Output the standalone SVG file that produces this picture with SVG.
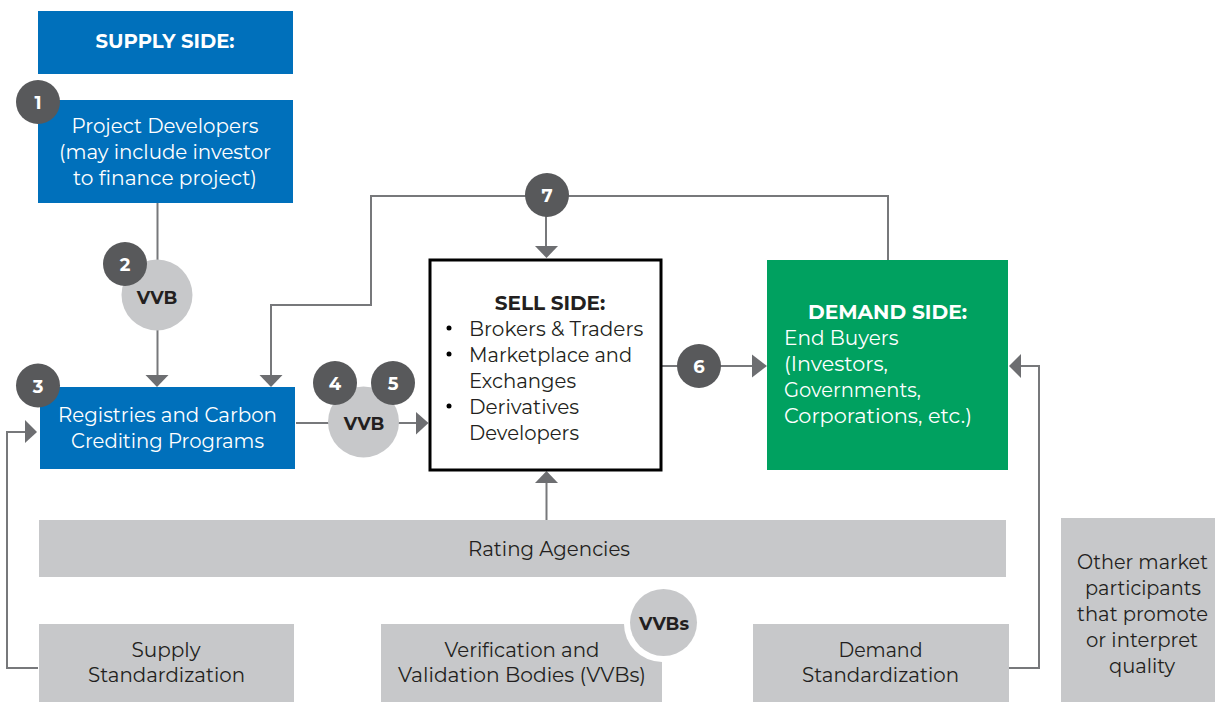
<svg xmlns="http://www.w3.org/2000/svg" width="1215" height="702" viewBox="0 0 1215 702">
<style>
text{font-family:"Montserrat","Open Sans","Liberation Sans",sans-serif;font-size:20px;text-anchor:middle}
.w{fill:#fff}.k{fill:#231f20}.b{font-weight:700}.s{text-anchor:start}.n{font-size:18px}
.blue{fill:#0070bb}.gray{fill:#c7c8ca}.badge{fill:#58595b}
.c{fill:none;stroke:#77787b;stroke-width:2}
.hd{fill:#6d6e71}
</style>
<rect width="1215" height="702" fill="#fff"/>
<g id="connectors">
<path class="c" d="M157.500 203V375"/><path class="hd" d="M145.500 375H168.500L157 387Z"/>
<path class="c" d="M296 423H417"/><path class="hd" d="M416 412L428.500 423L416 434.500Z"/>
<path class="c" d="M271 375V305H371V196H888V260"/><path class="hd" d="M259.500 375H282.500L271 387Z"/>
<path class="c" d="M546 196V246"/><path class="hd" d="M535 246H558L546.500 258Z"/>
<path class="c" d="M662 366H755"/><path class="hd" d="M752 354.500L767 366L752 377.500Z"/>
<path class="c" d="M546.500 520V483"/><path class="hd" d="M535 483H558L546.500 471Z"/>
<path class="c" d="M38 668H7V432H25"/><path class="hd" d="M25 420L37 432L25 443Z"/>
<path class="c" d="M1009 668H1039V366H1021"/><path class="hd" d="M1021 354L1009 366L1021 378Z"/>
</g>
<g id="supply-side"><rect class="blue" x="38" y="11" width="255" height="63"/><text class="w b" x="165" y="48" textLength="139" lengthAdjust="spacingAndGlyphs">SUPPLY SIDE:</text></g>
<g id="project-developers"><rect class="blue" x="38" y="100" width="255" height="103"/><text class="w" x="165" y="133" textLength="187" lengthAdjust="spacingAndGlyphs">Project Developers</text><text class="w" x="165" y="159" textLength="212" lengthAdjust="spacingAndGlyphs">(may include investor</text><text class="w" x="165" y="185" textLength="184" lengthAdjust="spacingAndGlyphs">to finance project)</text></g>
<g id="registries"><rect class="blue" x="40" y="387" width="255" height="82"/><text class="w" x="167.500" y="422" textLength="219" lengthAdjust="spacingAndGlyphs">Registries and Carbon</text><text class="w" x="167.500" y="448" textLength="193" lengthAdjust="spacingAndGlyphs">Crediting Programs</text></g>
<g id="sell-side"><rect x="430" y="260" width="231" height="210" fill="#fff" stroke="#000" stroke-width="3"/><text class="k b" x="550" y="310">SELL SIDE:</text>
<circle cx="449" cy="328" r="2.500"/><text class="k s" x="469" y="336">Brokers &amp; Traders</text><circle cx="449" cy="354" r="2.500"/><text class="k s" x="469" y="362" textLength="163" lengthAdjust="spacingAndGlyphs">Marketplace and</text><text class="k s" x="469" y="388" textLength="107" lengthAdjust="spacingAndGlyphs">Exchanges</text><circle cx="449" cy="406" r="2.500"/><text class="k s" x="469" y="414">Derivatives</text><text class="k s" x="469" y="440" textLength="110" lengthAdjust="spacingAndGlyphs">Developers</text></g>
<g id="demand-side"><rect x="767" y="260" width="241" height="210" fill="#00a160"/><text class="w b" x="887.500" y="319" textLength="159" lengthAdjust="spacingAndGlyphs">DEMAND SIDE:</text><text class="w s" x="784" y="345">End Buyers</text><text class="w s" x="784" y="371" textLength="104" lengthAdjust="spacingAndGlyphs">(Investors,</text><text class="w s" x="784" y="397" textLength="137" lengthAdjust="spacingAndGlyphs">Governments,</text><text class="w s" x="784" y="423" textLength="188" lengthAdjust="spacingAndGlyphs">Corporations, etc.)</text></g>
<g id="rating"><rect class="gray" x="39" y="520" width="967" height="57"/><text class="k" x="549" y="556" textLength="162" lengthAdjust="spacingAndGlyphs">Rating Agencies</text></g>
<g id="supply-std"><rect class="gray" x="39" y="624" width="255" height="78"/><text class="k" x="166" y="657" textLength="69" lengthAdjust="spacingAndGlyphs">Supply</text><text class="k" x="166.500" y="682" textLength="157" lengthAdjust="spacingAndGlyphs">Standardization</text></g>
<g id="vvb-bodies"><rect class="gray" x="381" y="624" width="281" height="78"/><text class="k" x="522" y="657" textLength="155" lengthAdjust="spacingAndGlyphs">Verification and</text><text class="k" x="522" y="682" textLength="248" lengthAdjust="spacingAndGlyphs">Validation Bodies (VVBs)</text></g>
<g id="demand-std"><rect class="gray" x="753" y="624" width="256" height="78"/><text class="k" x="880.500" y="657" textLength="84" lengthAdjust="spacingAndGlyphs">Demand</text><text class="k" x="880.500" y="682" textLength="157" lengthAdjust="spacingAndGlyphs">Standardization</text></g>
<g id="other"><rect class="gray" x="1061" y="518" width="154" height="184"/><text class="k" x="1142.500" y="569" textLength="131" lengthAdjust="spacingAndGlyphs">Other market</text><text class="k" x="1143" y="595" textLength="116" lengthAdjust="spacingAndGlyphs">participants</text><text class="k" x="1142.500" y="621" textLength="131" lengthAdjust="spacingAndGlyphs">that promote</text><text class="k" x="1142" y="647" textLength="112" lengthAdjust="spacingAndGlyphs">or interpret</text><text class="k" x="1142" y="673" textLength="66" lengthAdjust="spacingAndGlyphs">quality</text></g>
<g id="vvb-2"><circle class="gray" cx="157" cy="295" r="35.500"/><text class="k b n" x="157" y="304">VVB</text></g>
<g id="vvb-45"><circle class="gray" cx="363.500" cy="422" r="35.500"/><text class="k b n" x="364" y="430">VVB</text></g>
<g id="vvbs"><circle cx="662" cy="624" r="38" fill="#fff"/><circle class="gray" cx="663.500" cy="622.500" r="33.500"/><text class="k b n" x="664" y="630">VVBs</text></g>
<g id="badge-1"><circle class="badge" cx="38" cy="102" r="22"/><text class="w b n" x="38" y="109">1</text></g>
<g id="badge-2"><circle class="badge" cx="125" cy="264" r="22"/><text class="w b n" x="125" y="271">2</text></g>
<g id="badge-3"><circle class="badge" cx="38" cy="385.500" r="22"/><text class="w b n" x="38" y="392.500">3</text></g>
<g id="badge-4"><circle class="badge" cx="335" cy="383" r="22"/><text class="w b n" x="335" y="390">4</text></g>
<g id="badge-5"><circle class="badge" cx="393" cy="383" r="22"/><text class="w b n" x="393" y="390">5</text></g>
<g id="badge-6"><circle class="badge" cx="699" cy="366" r="22"/><text class="w b n" x="699" y="373">6</text></g>
<g id="badge-7"><circle class="badge" cx="547" cy="195" r="22"/><text class="w b n" x="547" y="202">7</text></g>
</svg>
